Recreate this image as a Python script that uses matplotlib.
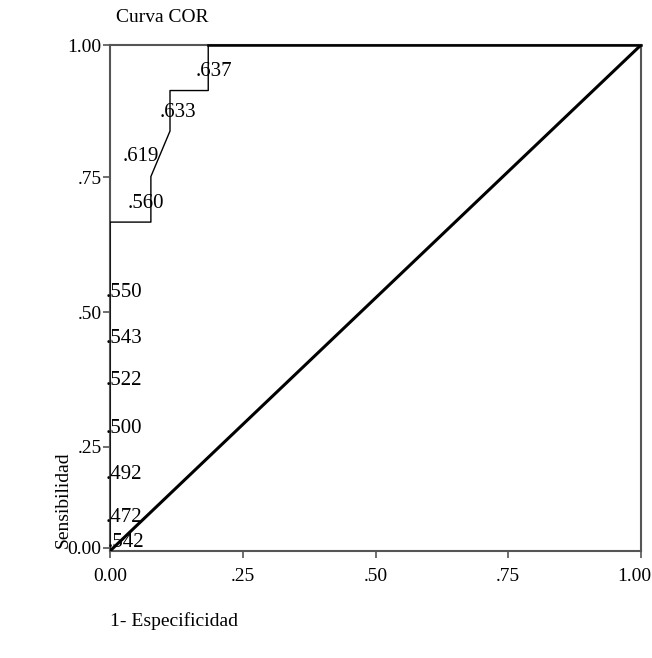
import matplotlib.pyplot as plt
import matplotlib.transforms as mtransforms

plt.rcParams['font.family'] = ['Liberation Serif', 'DejaVu Serif']

# ROC curve steps (1 - especificidad, sensibilidad)
fpr = [0.0, 0.0, 0.077, 0.077, 0.113, 0.113, 0.185, 0.185, 1.0]
tpr = [0.0, 0.65, 0.65, 0.74, 0.83, 0.91, 0.91, 1.0, 1.0]

# cut-off labels written next to the curve
cut_labels = ['.637', '.633', '.619', '.560', '.550', '.543', '.522', '.500', '.492', '.472', '.542']
cut_x = [0.162, 0.094, 0.023, 0.034, -0.009, -0.009, -0.009, -0.009, -0.009, -0.009, -0.005]
cut_y = [0.947, 0.866, 0.779, 0.686, 0.510, 0.419, 0.336, 0.243, 0.152, 0.067, 0.016]

xticks = [0.0, 0.25, 0.5, 0.75, 1.0]
xtick_labels = ['0.00', '.25', '.50', '.75', '1.00']
# y tick marks sit where they are drawn in the original figure
yticks = [0.006, 0.206, 0.472, 0.739, 1.0]
ytick_labels = ['0.00', '.25', '.50', '.75', '1.00']

fig = plt.figure(figsize=(6.52, 6.58), dpi=100)
ax = fig.add_axes([110 / 652, 1 - 551 / 658, 531 / 652, 506 / 658])

ax.plot([0, 1], [0, 1], color='black', lw=2.2, solid_capstyle='butt', zorder=3)
ax.plot(fpr, tpr, color='black', lw=1.0, zorder=3)
ax.plot([0.185, 1.0], [1.0, 1.0], color='black', lw=1.8, zorder=4, clip_on=False)

for lab, x, y in zip(cut_labels, cut_x, cut_y):
    ax.text(x, y, lab, fontsize=15, ha='left', va='center', zorder=5, clip_on=False)

ax.set_xlim(0, 1)
ax.set_ylim(0, 1)
ax.set_xticks(xticks)
ax.set_xticklabels(xtick_labels)
ax.set_yticks(yticks)
ax.set_yticklabels(ytick_labels)
ax.tick_params(labelsize=14, length=5, width=1.2, color='#555555')
ax.tick_params(axis='y', pad=1)
ax.tick_params(axis='x', pad=7)

# keep the last x label inside the picture
last = ax.get_xticklabels()[-1]
last.set_transform(last.get_transform() + mtransforms.ScaledTranslation(-0.07, 0, fig.dpi_scale_trans))

for s in ax.spines.values():
    s.set_color('#555555')
    s.set_linewidth(1.5)

fig.text(116 / 652, 1 - 18 / 658, 'Curva COR', fontsize=14, ha='left', va='center')
fig.text(110 / 652, 1 - 621 / 658, '1- Especificidad', fontsize=14, ha='left', va='center')
fig.text(63 / 652, 1 - 548 / 658, 'Sensibilidad', fontsize=14, rotation=90,
         ha='center', va='bottom')

fig.savefig('out.png', dpi=100)
